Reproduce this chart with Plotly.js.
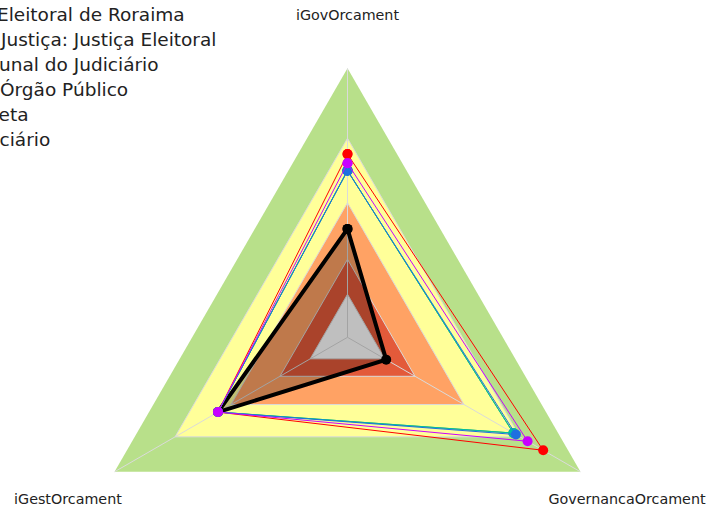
<!DOCTYPE html>
<html><head><meta charset="utf-8">
<script src="https://cdn.plot.ly/plotly-3.0.1.min.js"></script>
<style>html,body{margin:0;padding:0;background:#fff;overflow:hidden;width:707px;height:511px}#chart{width:707px}</style>
</head><body><div id="chart"></div>
<script>
// ---- data ----
var categories = ['iGovOrcament', 'GovernancaOrcament', 'iGestOrcament'];
var seriesNames = [
  'Tribunal Regional Eleitoral de Roraima',
  'Pelo Segmento de Justiça: Justiça Eleitoral',
  'Por Classe de Tribunal do Judiciário',
  'Por Categoria do Órgão Público',
  'Administração Direta',
  'Âmbito: Poder Judiciário'
];
var valuesTRE      = [0.403, 0.166, 0.556];
var valuesSegmento = [0.619, 0.723, 0.556];
var valuesTribunal = [0.647, 0.773, 0.556];
var valuesOrgao    = [0.681, 0.840, 0.556];
var valuesDireta   = [0.620, 0.712, 0.556];
var valuesPoder    = [0.620, 0.712, 0.556];
var bandLevels = [1.0, 0.74, 0.5, 0.29, 0.16];

// ---- styles / geometry ----
var bandColors = ['#B8E08A', '#FFFF99', '#FFA264', '#E35A3A', '#FFFFFF'];
var seriesColors = ['#000000', '#1E6FE0', '#C800FF', '#FF0000', '#00BFA5', '#3CB043'];
var drawOrder = [0, 3, 5, 4, 1, 2];
var labelRadius = 1.2, labelRangeMax = 1.25, labelShiftY = 2;
var W = 707, FH = 680;                         // figure taller than the 511px window
var CX = 347.5, CY = 337.3, R = 269;           // centre and radius (px) of r = 1
var FONT = 'DejaVu Sans, Verdana, sans-serif';
var LEGEND_SIZE = 18.5, LEGEND_TOP = -5, LEGEND_STEP = 25.1;
var legendVisible = ['Eleitoral', 'Justiça:', 'unal', 'Órgão', 'eta', 'ciário'];
var legendVisibleX = [-3, 1, -1, 0, -1, -0.5];

function closed(a) { return a.concat([a[0]]); }
var thetaClosed = closed(categories);

var canvas = document.createElement('canvas');
var ctx = canvas.getContext('2d');
function textWidth(s, size) { ctx.font = size + 'px "DejaVu Sans"'; return ctx.measureText(s).width; }

var traces = [];
bandLevels.forEach(function (lv, i) {
  traces.push({
    type: 'scatterpolar', subplot: 'polar',
    r: closed(categories.map(function () { return lv; })),
    theta: thetaClosed, mode: 'lines', fill: 'toself',
    fillcolor: bandColors[i], line: { width: 0, color: bandColors[i] },
    hoverinfo: 'skip', showlegend: false
  });
});

var seriesValues = [valuesTRE, valuesSegmento, valuesTribunal, valuesOrgao, valuesDireta, valuesPoder];
drawOrder.forEach(function (k) {
  var main = (k === 0);
  traces.push({
    type: 'scatterpolar', subplot: 'polar2',
    name: seriesNames[k], legend: k === 0 ? 'legend' : 'legend' + (k + 1),
    r: closed(seriesValues[k]), theta: thetaClosed,
    mode: 'lines+markers',
    line: { color: seriesColors[k], width: main ? 4 : 1 },
    marker: { color: seriesColors[k], size: 10 },
    fill: main ? 'toself' : 'none',
    fillcolor: 'rgba(0,0,0,0.25)'
  });
});

traces.push({
  type: 'scatterpolar', subplot: 'polar3', cliponaxis: false,
  r: categories.map(function () { return labelRadius; }),
  theta: categories, mode: 'text', text: categories,
  textposition: 'middle center',
  textfont: { family: FONT, size: 14.3, color: '#222' },
  hoverinfo: 'skip', showlegend: false
});

function domainFor(rad, dy) {
  var cy = CY + (dy || 0);
  return { x: [(CX - rad) / W, (CX + rad) / W], y: [1 - (cy + rad) / FH, 1 - (cy - rad) / FH] };
}
function polarCfg(rad, rangeMax, grid, dy) {
  return {
    domain: domainFor(rad, dy),
    bgcolor: 'rgba(0,0,0,0)',
    gridshape: grid ? 'linear' : 'circular',
    angularaxis: {
      rotation: 90, direction: 'clockwise',
      showgrid: grid, gridcolor: '#DADADA', gridwidth: 1,
      showline: false, showticklabels: false, ticks: ''
    },
    radialaxis: grid ? {
      range: [0, rangeMax], tickvals: bandLevels.slice(1), showgrid: true,
      gridcolor: '#DADADA', gridwidth: 1, showline: false, showticklabels: false, ticks: ''
    } : { range: [0, rangeMax], visible: false }
  };
}

var layout = {
  width: W, height: FH,
  margin: { l: 0, r: 0, t: 0, b: 0, pad: 0, autoexpand: false },
  paper_bgcolor: '#FFFFFF',
  font: { family: FONT, color: '#222' },
  showlegend: true,
  polar: polarCfg(R, 1, false),
  polar2: polarCfg(R, 1, true),
  polar3: polarCfg(R * labelRangeMax, labelRangeMax, false, labelShiftY)
};
seriesNames.forEach(function (nm, k) {
  var prefix = nm.substring(0, nm.indexOf(legendVisible[k]));
  var lx = legendVisibleX[k] - 40 - textWidth(prefix, LEGEND_SIZE);
  var top = LEGEND_TOP + k * LEGEND_STEP;
  layout[k === 0 ? 'legend' : 'legend' + (k + 1)] = {
    x: lx / W, xanchor: 'left', y: 1 - top / FH, yanchor: 'top',
    font: { family: FONT, size: LEGEND_SIZE, color: '#222' },
    bgcolor: 'rgba(0,0,0,0)', borderwidth: 0
  };
});

Plotly.newPlot('chart', traces, layout, { displayModeBar: false, staticPlot: true });
</script></body></html>
